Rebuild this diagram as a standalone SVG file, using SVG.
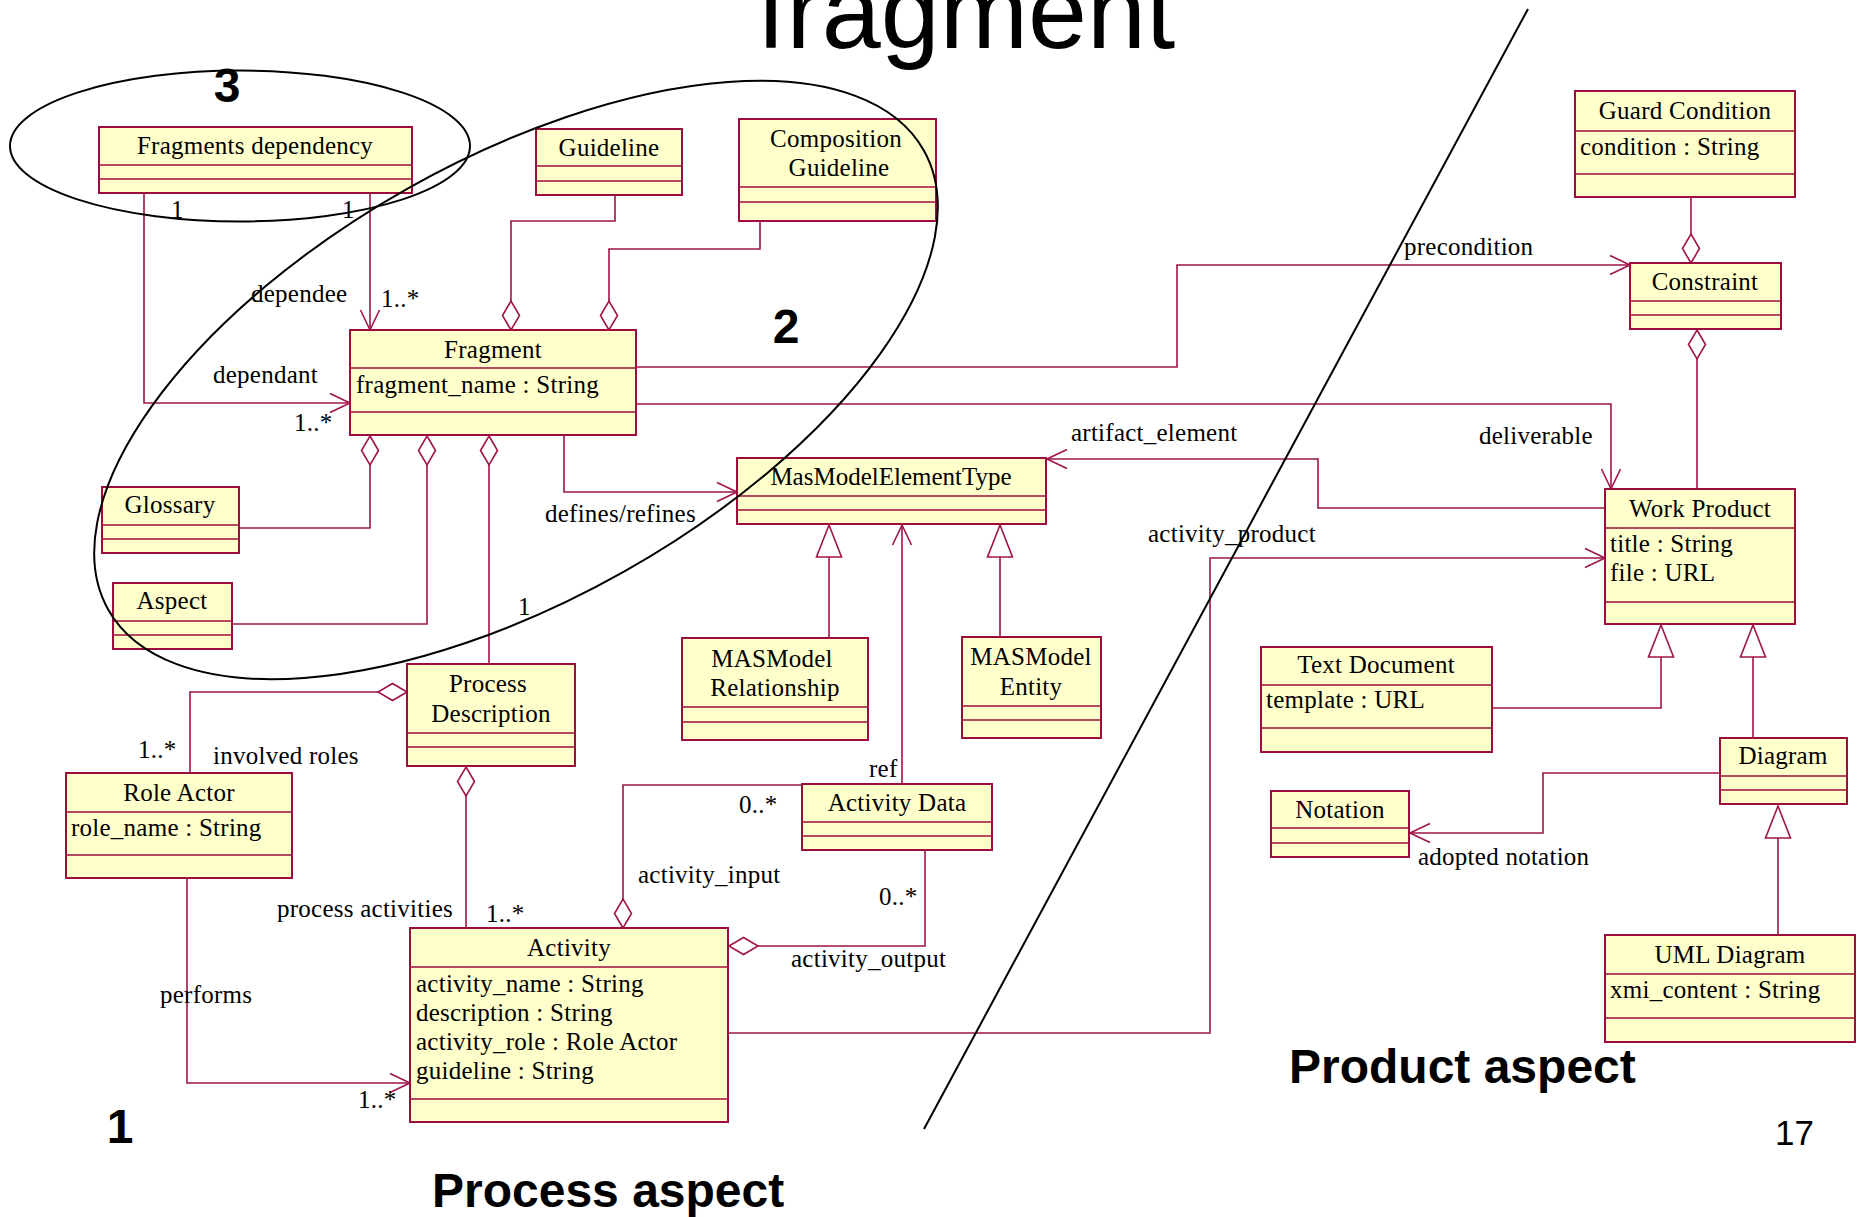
<svg xmlns="http://www.w3.org/2000/svg" width="1858" height="1217" viewBox="0 0 1858 1217">
<style>
.box{fill:#FFFFCC;stroke:#9E0B3E;stroke-width:2}
.div{stroke:#9E0B3E;stroke-width:1.6}
.t{font-family:"Liberation Serif","Times New Roman",serif;font-size:25px;letter-spacing:0.25px;fill:#000}
.c{text-anchor:middle}
.lbl{font-family:"Liberation Serif","Times New Roman",serif;font-size:25px;letter-spacing:0.25px;fill:#000}
.big{font-family:"Liberation Sans",Arial,sans-serif;font-weight:bold;font-size:48px;fill:#000}
.conn{fill:none;stroke:#A0144A;stroke-width:1.6}
.outline{fill:none;stroke:#000;stroke-width:2}
</style>
<defs>
<marker id="arrow" markerUnits="userSpaceOnUse" markerWidth="26" markerHeight="24" viewBox="-23 -12 26 24" refX="0" refY="0" orient="auto"><path d="M-20,-9.5 L0,0 L-20,9.5" fill="none" stroke="#A0144A" stroke-width="1.6"/></marker>
<marker id="diamond" markerUnits="userSpaceOnUse" markerWidth="34" markerHeight="24" viewBox="-2 -12 34 24" refX="0" refY="0" orient="auto"><path d="M0,0 L14.5,-8.5 L29,0 L14.5,8.5 Z" fill="#FFFFFF" stroke="#A0144A" stroke-width="1.6"/></marker>
<marker id="tri" markerUnits="userSpaceOnUse" markerWidth="36" markerHeight="30" viewBox="-34 -15 36 30" refX="0" refY="0" orient="auto"><path d="M0,0 L-32,-12.5 L-32,12.5 Z" fill="#FFFFFF" stroke="#A0144A" stroke-width="1.6"/></marker>
</defs>
<rect width="1858" height="1217" fill="#FFFFFF"/>

<text x="757" y="48" font-family="'Liberation Sans',Arial,sans-serif" font-size="106" fill="#000">fragment</text>

<g id="connectors">
<polyline class="conn" points="144,194 144,403 350,403" marker-end="url(#arrow)"/>
<polyline class="conn" points="370,194 370,330" marker-end="url(#arrow)"/>
<polyline class="conn" points="511,330 511,221 615,221 615,195" marker-start="url(#diamond)"/>
<polyline class="conn" points="609,330 609,249 760,249 760,221" marker-start="url(#diamond)"/>
<polyline class="conn" points="370,436 370,528 239,528" marker-start="url(#diamond)"/>
<polyline class="conn" points="427,436 427,624 232,624" marker-start="url(#diamond)"/>
<polyline class="conn" points="489,436 489,664" marker-start="url(#diamond)"/>
<polyline class="conn" points="564,436 564,492 737,492" marker-end="url(#arrow)"/>
<polyline class="conn" points="636,367 1177,367 1177,265 1630,265" marker-end="url(#arrow)"/>
<polyline class="conn" points="636,404 1611,404 1611,489" marker-end="url(#arrow)"/>
<polyline class="conn" points="1691,263 1691,198" marker-start="url(#diamond)"/>
<polyline class="conn" points="1697,330 1697,489" marker-start="url(#diamond)"/>
<polyline class="conn" points="1605,508 1318,508 1318,459 1047,459" marker-end="url(#arrow)"/>
<polyline class="conn" points="729,1033 1210,1033 1210,558 1605,558" marker-end="url(#arrow)"/>
<polyline class="conn" points="829,638 829,525" marker-end="url(#tri)"/>
<polyline class="conn" points="1000,637 1000,525" marker-end="url(#tri)"/>
<polyline class="conn" points="902,784 902,525" marker-end="url(#arrow)"/>
<polyline class="conn" points="407,692 190,692 190,773" marker-start="url(#diamond)"/>
<polyline class="conn" points="466,767 466,928" marker-start="url(#diamond)"/>
<polyline class="conn" points="187,879 187,1083 410,1083" marker-end="url(#arrow)"/>
<polyline class="conn" points="623,928 623,785 802,785" marker-start="url(#diamond)"/>
<polyline class="conn" points="729,946 925,946 925,851" marker-start="url(#diamond)"/>
<polyline class="conn" points="1493,708 1661,708 1661,625" marker-end="url(#tri)"/>
<polyline class="conn" points="1753,738 1753,625" marker-end="url(#tri)"/>
<polyline class="conn" points="1720,773 1543,773 1543,833 1410,833" marker-end="url(#arrow)"/>
<polyline class="conn" points="1778,935 1778,806" marker-end="url(#tri)"/>
</g>

<g id="labels">
<text class="lbl" x="171" y="218">1</text>
<text class="lbl" x="342" y="218">1</text>
<text class="lbl" x="251" y="302">dependee</text>
<text class="lbl" x="381" y="307">1..*</text>
<text class="lbl" x="213" y="383">dependant</text>
<text class="lbl" x="294" y="431">1..*</text>
<text class="lbl" x="545" y="522">defines/refines</text>
<text class="lbl" x="518" y="615">1</text>
<text class="lbl" x="1404" y="255">precondition</text>
<text class="lbl" x="1071" y="441">artifact_element</text>
<text class="lbl" x="1479" y="444">deliverable</text>
<text class="lbl" x="1148" y="542">activity_product</text>
<text class="lbl" x="869" y="777">ref</text>
<text class="lbl" x="739" y="813">0..*</text>
<text class="lbl" x="138" y="758">1..*</text>
<text class="lbl" x="213" y="764">involved roles</text>
<text class="lbl" x="638" y="883">activity_input</text>
<text class="lbl" x="879" y="905">0..*</text>
<text class="lbl" x="791" y="967">activity_output</text>
<text class="lbl" x="277" y="917">process activities</text>
<text class="lbl" x="486" y="922">1..*</text>
<text class="lbl" x="160" y="1003">performs</text>
<text class="lbl" x="358" y="1108">1..*</text>
<text class="lbl" x="1418" y="865">adopted notation</text>
</g>

<g id="fragdep"><rect class="box" x="99" y="127" width="313" height="66"/><line class="div" x1="99" y1="165" x2="412" y2="165"/><line class="div" x1="99" y1="179" x2="412" y2="179"/><text class="t c" x="255" y="154">Fragments dependency</text></g>
<g id="guideline"><rect class="box" x="536" y="129" width="146" height="66"/><line class="div" x1="536" y1="166" x2="682" y2="166"/><line class="div" x1="536" y1="181" x2="682" y2="181"/><text class="t c" x="609" y="156">Guideline</text></g>
<g id="compguide"><rect class="box" x="739" y="119" width="197" height="102"/><line class="div" x1="739" y1="187" x2="936" y2="187"/><line class="div" x1="739" y1="202" x2="936" y2="202"/><text class="t c" x="836" y="147">Composition</text><text class="t c" x="839" y="176">Guideline</text></g>
<g id="fragment"><rect class="box" x="350" y="330" width="286" height="105"/><line class="div" x1="350" y1="368" x2="636" y2="368"/><line class="div" x1="350" y1="412" x2="636" y2="412"/><text class="t c" x="493" y="358">Fragment</text><text class="t" x="356" y="393">fragment_name : String</text></g>
<g id="glossary"><rect class="box" x="102" y="487" width="137" height="66"/><line class="div" x1="102" y1="525" x2="239" y2="525"/><line class="div" x1="102" y1="539" x2="239" y2="539"/><text class="t c" x="170" y="513">Glossary</text></g>
<g id="aspect"><rect class="box" x="113" y="583" width="119" height="66"/><line class="div" x1="113" y1="621" x2="232" y2="621"/><line class="div" x1="113" y1="635" x2="232" y2="635"/><text class="t c" x="172" y="609">Aspect</text></g>
<g id="mmet"><rect class="box" x="737" y="458" width="309" height="66"/><line class="div" x1="737" y1="496" x2="1046" y2="496"/><line class="div" x1="737" y1="510" x2="1046" y2="510"/><text class="t c" x="891" y="485" style="letter-spacing:0px">MasModelElementType</text></g>
<g id="mmrel"><rect class="box" x="682" y="638" width="186" height="102"/><line class="div" x1="682" y1="707" x2="868" y2="707"/><line class="div" x1="682" y1="722" x2="868" y2="722"/><text class="t c" x="772" y="667">MASModel</text><text class="t c" x="775" y="696">Relationship</text></g>
<g id="mment"><rect class="box" x="962" y="637" width="139" height="101"/><line class="div" x1="962" y1="706" x2="1101" y2="706"/><line class="div" x1="962" y1="720" x2="1101" y2="720"/><text class="t c" x="1031" y="665">MASModel</text><text class="t c" x="1031" y="695">Entity</text></g>
<g id="procdesc"><rect class="box" x="407" y="664" width="168" height="102"/><line class="div" x1="407" y1="733" x2="575" y2="733"/><line class="div" x1="407" y1="747" x2="575" y2="747"/><text class="t c" x="488" y="692">Process</text><text class="t c" x="491" y="722">Description</text></g>
<g id="roleactor"><rect class="box" x="66" y="773" width="226" height="105"/><line class="div" x1="66" y1="812" x2="292" y2="812"/><line class="div" x1="66" y1="855" x2="292" y2="855"/><text class="t c" x="179" y="801">Role Actor</text><text class="t" x="71" y="836">role_name : String</text></g>
<g id="activity"><rect class="box" x="410" y="928" width="318" height="194"/><line class="div" x1="410" y1="967" x2="728" y2="967"/><line class="div" x1="410" y1="1099" x2="728" y2="1099"/><text class="t c" x="569" y="956">Activity</text><text class="t" x="416" y="992">activity_name : String</text><text class="t" x="416" y="1021">description : String</text><text class="t" x="416" y="1050">activity_role : Role Actor</text><text class="t" x="416" y="1079">guideline : String</text></g>
<g id="actdata"><rect class="box" x="802" y="784" width="190" height="66"/><line class="div" x1="802" y1="822" x2="992" y2="822"/><line class="div" x1="802" y1="836" x2="992" y2="836"/><text class="t c" x="897" y="811">Activity Data</text></g>
<g id="guard"><rect class="box" x="1575" y="91" width="220" height="106"/><line class="div" x1="1575" y1="131" x2="1795" y2="131"/><line class="div" x1="1575" y1="174" x2="1795" y2="174"/><text class="t c" x="1685" y="119">Guard Condition</text><text class="t" x="1580" y="155">condition : String</text></g>
<g id="constraint"><rect class="box" x="1630" y="263" width="151" height="66"/><line class="div" x1="1630" y1="301" x2="1781" y2="301"/><line class="div" x1="1630" y1="315" x2="1781" y2="315"/><text class="t c" x="1705" y="290">Constraint</text></g>
<g id="workproduct"><rect class="box" x="1605" y="489" width="190" height="135"/><line class="div" x1="1605" y1="528" x2="1795" y2="528"/><line class="div" x1="1605" y1="602" x2="1795" y2="602"/><text class="t c" x="1700" y="517">Work Product</text><text class="t" x="1610" y="552">title : String</text><text class="t" x="1610" y="581">file : URL</text></g>
<g id="textdoc"><rect class="box" x="1261" y="647" width="231" height="105"/><line class="div" x1="1261" y1="685" x2="1492" y2="685"/><line class="div" x1="1261" y1="728" x2="1492" y2="728"/><text class="t c" x="1376" y="673">Text Document</text><text class="t" x="1266" y="708">template : URL</text></g>
<g id="diagram"><rect class="box" x="1720" y="738" width="127" height="66"/><line class="div" x1="1720" y1="776" x2="1847" y2="776"/><line class="div" x1="1720" y1="790" x2="1847" y2="790"/><text class="t c" x="1783" y="764">Diagram</text></g>
<g id="notation"><rect class="box" x="1271" y="791" width="138" height="66"/><line class="div" x1="1271" y1="828" x2="1409" y2="828"/><line class="div" x1="1271" y1="843" x2="1409" y2="843"/><text class="t c" x="1340" y="818">Notation</text></g>
<g id="umldiagram"><rect class="box" x="1605" y="935" width="250" height="107"/><line class="div" x1="1605" y1="974" x2="1855" y2="974"/><line class="div" x1="1605" y1="1018" x2="1855" y2="1018"/><text class="t c" x="1730" y="963">UML Diagram</text><text class="t" x="1610" y="998">xmi_content : String</text></g>

<g id="overlay">
<ellipse class="outline" cx="240" cy="146" rx="230" ry="75.5"/>
<ellipse class="outline" cx="516" cy="380" rx="468" ry="220" transform="rotate(-29.4 516 380)"/>
<line class="outline" x1="1528" y1="9" x2="924" y2="1129"/>
<text class="big" x="227" y="102" text-anchor="middle">3</text>
<text class="big" x="786" y="343" text-anchor="middle">2</text>
<text class="big" x="120" y="1143" text-anchor="middle">1</text>
<text class="big" x="1289" y="1083">Product aspect</text>
<text class="big" x="432" y="1207">Process aspect</text>
<text x="1775" y="1145" font-family="'Liberation Sans',Arial,sans-serif" font-size="35" fill="#000">17</text>
</g>
</svg>
